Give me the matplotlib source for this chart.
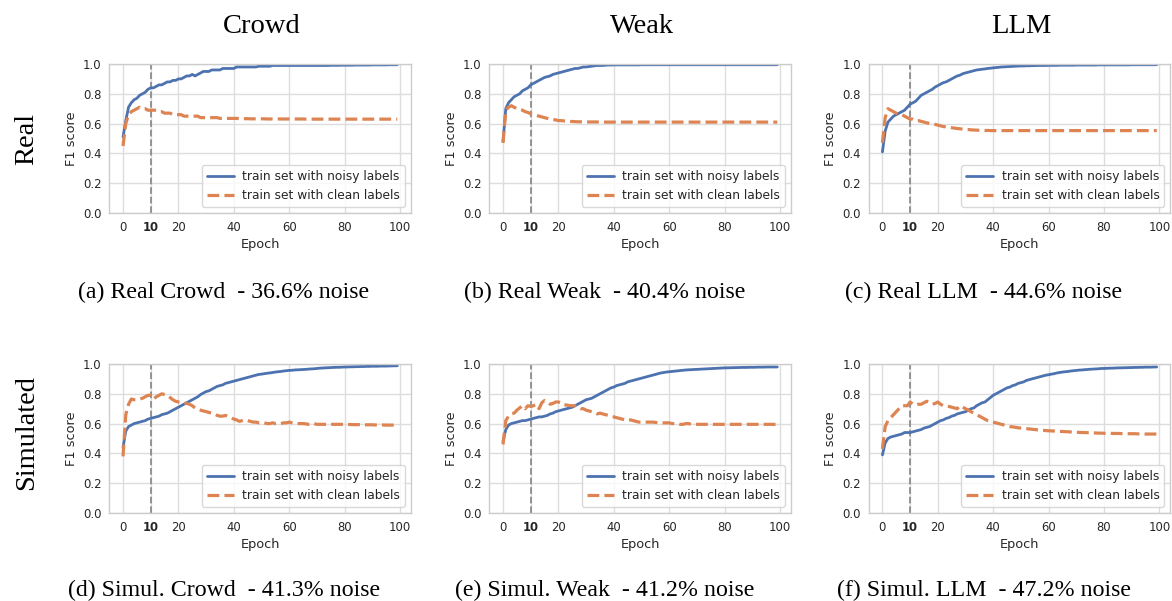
import matplotlib
matplotlib.use("Agg")
import matplotlib.pyplot as plt
import seaborn as sns

sns.set_style("whitegrid")
plt.rcParams["font.family"] = ["DejaVu Sans"]

epochs = list(range(100))

col_titles = ["Crowd", "Weak", "LLM"]
row_titles = ["Real", "Simulated"]
captions = [
    "(a) Real Crowd  - 36.6% noise",
    "(b) Real Weak  - 40.4% noise",
    "(c) Real LLM  - 44.6% noise",
    "(d) Simul. Crowd  - 41.3% noise",
    "(e) Simul. Weak  - 41.2% noise",
    "(f) Simul. LLM  - 47.2% noise",
]
xtick_vals = [0, 10, 20, 40, 60, 80, 100]
xtick_labels = ["0", "10", "20", "40", "60", "80", "100"]
ytick_vals = [0.0, 0.2, 0.4, 0.6, 0.8, 1.0]
noisy_label = "train set with noisy labels"
clean_label = "train set with clean labels"

# (a) Real Crowd
a_noisy = [0.51, 0.62, 0.71, 0.74, 0.76, 0.77, 0.79, 0.80, 0.81, 0.83,
           0.84, 0.84, 0.85, 0.86, 0.86, 0.87, 0.88, 0.88, 0.89, 0.89,
           0.90, 0.90, 0.91, 0.92, 0.92, 0.93, 0.92, 0.93, 0.94, 0.95,
           0.95, 0.95, 0.96, 0.96, 0.96, 0.96, 0.97, 0.97, 0.97, 0.97,
           0.97, 0.98, 0.98, 0.98, 0.98, 0.98, 0.98, 0.98, 0.98, 0.985,
           0.985, 0.985, 0.985, 0.985, 0.99, 0.99, 0.99, 0.99, 0.99, 0.99,
           0.99, 0.99, 0.99, 0.99, 0.99, 0.99, 0.99, 0.99, 0.99, 0.99,
           0.99, 0.99, 0.99, 0.99, 0.99, 0.991, 0.991, 0.991, 0.991, 0.992,
           0.992, 0.992, 0.992, 0.992, 0.993, 0.993, 0.993, 0.993, 0.993, 0.993,
           0.994, 0.994, 0.994, 0.994, 0.994, 0.994, 0.995, 0.995, 0.995, 0.995]
a_clean = [0.45, 0.60, 0.66, 0.68, 0.69, 0.70, 0.71, 0.70, 0.70, 0.69,
           0.69, 0.69, 0.69, 0.68, 0.68, 0.67, 0.67, 0.67, 0.66, 0.66,
           0.66, 0.66, 0.65, 0.65, 0.65, 0.65, 0.65, 0.65, 0.64, 0.64,
           0.64, 0.64, 0.64, 0.64, 0.64, 0.635, 0.635, 0.635, 0.635, 0.635,
           0.635, 0.635, 0.633, 0.633, 0.633, 0.633, 0.632, 0.632, 0.632, 0.632,
           0.632, 0.632, 0.631, 0.631, 0.631, 0.631, 0.631, 0.631, 0.631, 0.631,
           0.631, 0.631, 0.631, 0.631, 0.631, 0.631, 0.630, 0.630, 0.630, 0.630,
           0.630, 0.630, 0.630, 0.630, 0.630, 0.630, 0.630, 0.630, 0.630, 0.630,
           0.630, 0.630, 0.630, 0.630, 0.630, 0.630, 0.630, 0.630, 0.630, 0.630,
           0.630, 0.630, 0.630, 0.630, 0.630, 0.630, 0.630, 0.630, 0.630, 0.630]

# (b) Real Weak
b_noisy = [0.48, 0.70, 0.74, 0.76, 0.78, 0.79, 0.80, 0.82, 0.83, 0.84,
           0.86, 0.87, 0.88, 0.89, 0.90, 0.91, 0.915, 0.92, 0.93, 0.935,
           0.94, 0.945, 0.95, 0.955, 0.96, 0.965, 0.97, 0.97, 0.975, 0.98,
           0.98, 0.983, 0.985, 0.988, 0.99, 0.99, 0.99, 0.992, 0.993, 0.993,
           0.994, 0.994, 0.994, 0.994, 0.994, 0.994, 0.994, 0.994, 0.994, 0.994,
           0.995, 0.995, 0.995, 0.995, 0.995, 0.995, 0.995, 0.995, 0.995, 0.995,
           0.995, 0.995, 0.995, 0.995, 0.995, 0.995, 0.995, 0.995, 0.995, 0.995,
           0.995, 0.995, 0.995, 0.995, 0.995, 0.995, 0.995, 0.995, 0.995, 0.995,
           0.995, 0.995, 0.995, 0.995, 0.995, 0.995, 0.995, 0.995, 0.995, 0.995,
           0.995, 0.995, 0.995, 0.995, 0.995, 0.995, 0.995, 0.995, 0.995, 0.995]
b_clean = [0.47, 0.69, 0.71, 0.72, 0.71, 0.70, 0.695, 0.69, 0.68, 0.675,
           0.665, 0.66, 0.655, 0.65, 0.645, 0.64, 0.635, 0.63, 0.627, 0.625,
           0.62, 0.62, 0.618, 0.616, 0.615, 0.614, 0.613, 0.612, 0.612, 0.611,
           0.611, 0.611, 0.611, 0.611, 0.611, 0.610, 0.610, 0.610, 0.610, 0.610,
           0.610, 0.610, 0.610, 0.610, 0.610, 0.610, 0.610, 0.610, 0.610, 0.610,
           0.610, 0.610, 0.610, 0.610, 0.610, 0.610, 0.610, 0.610, 0.610, 0.610,
           0.610, 0.610, 0.610, 0.610, 0.610, 0.610, 0.610, 0.610, 0.610, 0.610,
           0.610, 0.610, 0.610, 0.610, 0.610, 0.610, 0.610, 0.610, 0.610, 0.610,
           0.610, 0.610, 0.610, 0.610, 0.610, 0.610, 0.610, 0.610, 0.610, 0.610,
           0.610, 0.610, 0.610, 0.610, 0.610, 0.610, 0.610, 0.610, 0.610, 0.610]

# (c) Real LLM
c_noisy = [0.41, 0.55, 0.61, 0.63, 0.65, 0.66, 0.67, 0.68, 0.69, 0.71,
           0.73, 0.74, 0.75, 0.77, 0.79, 0.80, 0.81, 0.82, 0.83, 0.845,
           0.855, 0.865, 0.875, 0.88, 0.89, 0.90, 0.91, 0.92, 0.925, 0.935,
           0.94, 0.945, 0.95, 0.955, 0.96, 0.962, 0.965, 0.967, 0.97, 0.972,
           0.974, 0.976, 0.978, 0.98, 0.981, 0.982, 0.983, 0.984, 0.985, 0.986,
           0.987, 0.987, 0.988, 0.988, 0.989, 0.989, 0.990, 0.990, 0.990, 0.990,
           0.991, 0.991, 0.991, 0.991, 0.992, 0.992, 0.992, 0.992, 0.992, 0.992,
           0.993, 0.993, 0.993, 0.993, 0.993, 0.993, 0.993, 0.993, 0.994, 0.994,
           0.994, 0.994, 0.994, 0.994, 0.994, 0.994, 0.994, 0.994, 0.994, 0.994,
           0.995, 0.995, 0.995, 0.995, 0.995, 0.995, 0.995, 0.995, 0.995, 0.995]
c_clean = [0.47, 0.64, 0.70, 0.69, 0.68, 0.67, 0.66, 0.66, 0.65, 0.64,
           0.63, 0.63, 0.62, 0.62, 0.615, 0.61, 0.605, 0.60, 0.60, 0.595,
           0.59, 0.585, 0.58, 0.578, 0.575, 0.572, 0.57, 0.567, 0.565, 0.563,
           0.56, 0.56, 0.558, 0.557, 0.556, 0.555, 0.555, 0.554, 0.554, 0.553,
           0.553, 0.553, 0.553, 0.553, 0.553, 0.553, 0.553, 0.553, 0.553, 0.553,
           0.553, 0.553, 0.553, 0.553, 0.553, 0.553, 0.553, 0.553, 0.553, 0.553,
           0.553, 0.553, 0.553, 0.553, 0.553, 0.553, 0.553, 0.553, 0.553, 0.553,
           0.553, 0.553, 0.553, 0.553, 0.553, 0.553, 0.553, 0.553, 0.553, 0.553,
           0.553, 0.553, 0.553, 0.553, 0.553, 0.553, 0.553, 0.553, 0.553, 0.553,
           0.553, 0.553, 0.553, 0.553, 0.553, 0.553, 0.553, 0.553, 0.553, 0.553]

# (d) Simulated Crowd
d_noisy = [0.44, 0.55, 0.58, 0.59, 0.60, 0.605, 0.61, 0.615, 0.62, 0.63,
           0.635, 0.64, 0.645, 0.65, 0.66, 0.665, 0.67, 0.68, 0.69, 0.70,
           0.71, 0.72, 0.73, 0.74, 0.75, 0.76, 0.77, 0.78, 0.795, 0.805,
           0.815, 0.82, 0.83, 0.84, 0.85, 0.855, 0.86, 0.87, 0.875, 0.88,
           0.885, 0.89, 0.895, 0.90, 0.905, 0.91, 0.915, 0.92, 0.925, 0.93,
           0.932, 0.935, 0.938, 0.94, 0.943, 0.946, 0.948, 0.95, 0.953, 0.955,
           0.957, 0.958, 0.96, 0.961, 0.962, 0.963, 0.964, 0.966, 0.967, 0.968,
           0.97, 0.972, 0.973, 0.974, 0.975, 0.976, 0.977, 0.978, 0.978, 0.979,
           0.980, 0.980, 0.981, 0.981, 0.982, 0.982, 0.983, 0.983, 0.984, 0.984,
           0.985, 0.985, 0.985, 0.986, 0.986, 0.986, 0.987, 0.987, 0.988, 0.988]
d_clean = [0.38, 0.66, 0.73, 0.765, 0.76, 0.76, 0.765, 0.77, 0.78, 0.79,
           0.79, 0.765, 0.78, 0.79, 0.80, 0.795, 0.79, 0.775, 0.76, 0.75,
           0.745, 0.74, 0.74, 0.735, 0.73, 0.72, 0.705, 0.695, 0.69, 0.685,
           0.68, 0.675, 0.67, 0.665, 0.655, 0.65, 0.65, 0.655, 0.645, 0.64,
           0.63, 0.625, 0.615, 0.62, 0.625, 0.62, 0.615, 0.61, 0.61, 0.605,
           0.605, 0.605, 0.60, 0.60, 0.605, 0.60, 0.60, 0.60, 0.605, 0.605,
           0.61, 0.605, 0.60, 0.60, 0.60, 0.60, 0.598, 0.595, 0.595, 0.60,
           0.595, 0.595, 0.595, 0.595, 0.595, 0.595, 0.595, 0.595, 0.595, 0.595,
           0.594, 0.594, 0.594, 0.593, 0.593, 0.593, 0.593, 0.592, 0.592, 0.592,
           0.592, 0.591, 0.591, 0.591, 0.591, 0.590, 0.590, 0.590, 0.590, 0.590]

# (e) Simulated Weak
e_noisy = [0.48, 0.56, 0.59, 0.60, 0.605, 0.61, 0.615, 0.62, 0.62, 0.625,
           0.63, 0.635, 0.64, 0.645, 0.645, 0.65, 0.655, 0.665, 0.67, 0.68,
           0.685, 0.69, 0.695, 0.70, 0.705, 0.71, 0.72, 0.73, 0.74, 0.75,
           0.76, 0.765, 0.77, 0.78, 0.79, 0.80, 0.81, 0.82, 0.83, 0.84,
           0.845, 0.855, 0.86, 0.865, 0.87, 0.88, 0.885, 0.89, 0.895, 0.90,
           0.905, 0.91, 0.915, 0.92, 0.925, 0.93, 0.935, 0.94, 0.943, 0.946,
           0.948, 0.95, 0.952, 0.954, 0.956, 0.958, 0.96, 0.961, 0.962, 0.963,
           0.964, 0.965, 0.966, 0.967, 0.968, 0.969, 0.97, 0.971, 0.972, 0.973,
           0.974, 0.974, 0.975, 0.975, 0.976, 0.976, 0.977, 0.977, 0.977, 0.978,
           0.978, 0.978, 0.979, 0.979, 0.979, 0.980, 0.980, 0.980, 0.980, 0.980]
e_clean = [0.46, 0.62, 0.65, 0.665, 0.67, 0.69, 0.705, 0.72, 0.70, 0.72,
           0.715, 0.72, 0.73, 0.70, 0.74, 0.755, 0.745, 0.73, 0.735, 0.745,
           0.745, 0.74, 0.725, 0.725, 0.72, 0.72, 0.72, 0.71, 0.70, 0.70,
           0.69, 0.685, 0.68, 0.675, 0.665, 0.67, 0.665, 0.66, 0.655, 0.65,
           0.645, 0.64, 0.635, 0.63, 0.625, 0.62, 0.625, 0.62, 0.615, 0.61,
           0.61, 0.61, 0.61, 0.61, 0.61, 0.608, 0.606, 0.605, 0.605, 0.605,
           0.605, 0.60, 0.60, 0.60, 0.595, 0.595, 0.60, 0.60, 0.595, 0.595,
           0.595, 0.595, 0.595, 0.595, 0.595, 0.595, 0.595, 0.595, 0.595, 0.595,
           0.595, 0.595, 0.595, 0.595, 0.595, 0.595, 0.595, 0.595, 0.595, 0.595,
           0.595, 0.595, 0.595, 0.595, 0.595, 0.595, 0.595, 0.595, 0.595, 0.595]

# (f) Simulated LLM
f_noisy = [0.39, 0.47, 0.50, 0.51, 0.515, 0.52, 0.525, 0.53, 0.54, 0.54,
           0.54, 0.545, 0.55, 0.555, 0.56, 0.57, 0.575, 0.58, 0.59, 0.60,
           0.61, 0.62, 0.625, 0.635, 0.64, 0.65, 0.655, 0.665, 0.67, 0.675,
           0.68, 0.69, 0.70, 0.705, 0.72, 0.73, 0.74, 0.745, 0.76, 0.775,
           0.79, 0.80, 0.81, 0.82, 0.83, 0.84, 0.845, 0.855, 0.86, 0.87,
           0.875, 0.88, 0.89, 0.895, 0.90, 0.905, 0.91, 0.915, 0.92, 0.925,
           0.928, 0.932, 0.935, 0.94, 0.943, 0.946, 0.948, 0.95, 0.953, 0.955,
           0.957, 0.959, 0.96, 0.962, 0.963, 0.965, 0.966, 0.967, 0.968, 0.97,
           0.970, 0.971, 0.972, 0.972, 0.973, 0.974, 0.974, 0.975, 0.975, 0.976,
           0.976, 0.977, 0.977, 0.978, 0.978, 0.979, 0.979, 0.979, 0.980, 0.980]
f_clean = [0.43, 0.58, 0.62, 0.64, 0.66, 0.68, 0.70, 0.72, 0.72, 0.72,
           0.745, 0.73, 0.725, 0.73, 0.73, 0.74, 0.75, 0.74, 0.73, 0.735,
           0.745, 0.73, 0.72, 0.72, 0.715, 0.71, 0.705, 0.70, 0.72, 0.71,
           0.70, 0.69, 0.68, 0.67, 0.66, 0.65, 0.64, 0.63, 0.62, 0.615,
           0.61, 0.605, 0.60, 0.595, 0.59, 0.585, 0.58, 0.578, 0.575, 0.572,
           0.57, 0.568, 0.566, 0.564, 0.562, 0.56, 0.558, 0.556, 0.555, 0.553,
           0.552, 0.551, 0.55, 0.549, 0.548, 0.547, 0.546, 0.545, 0.544, 0.543,
           0.542, 0.541, 0.54, 0.54, 0.539, 0.538, 0.537, 0.537, 0.536, 0.536,
           0.535, 0.535, 0.535, 0.534, 0.534, 0.534, 0.533, 0.533, 0.533, 0.532,
           0.532, 0.532, 0.531, 0.531, 0.531, 0.530, 0.530, 0.530, 0.530, 0.530]

noisy_series = [a_noisy, b_noisy, c_noisy, d_noisy, e_noisy, f_noisy]
clean_series = [a_clean, b_clean, c_clean, d_clean, e_clean, f_clean]

FW, FH = 1172, 601
fig = plt.figure(figsize=(FW / 100, FH / 100), dpi=100)

col_left = [109.3, 489.3, 868.7]
row_top = [64.0, 364.0]
AW, AH = 301.7, 149.0

blue = "#4C72B0"
orange = "#DD8452"
txt = "#262626"

for r in range(2):
    for c in range(3):
        k = r * 3 + c
        ax = fig.add_axes([col_left[c] / FW, 1 - (row_top[r] + AH) / FH, AW / FW, AH / FH])
        ax.plot(epochs, noisy_series[k], color=blue, lw=2.0, label=noisy_label)
        ax.plot(epochs, clean_series[k], color=orange, lw=2.3, ls="--", label=clean_label)
        ax.axvline(10, color="#8c8c8c", ls="--", lw=1.3, zorder=1.5)
        ax.set_ylim(0, 1.0)
        ax.set_xlim(-4.95, 103.95)
        ax.set_yticks(ytick_vals)
        ax.set_yticklabels([f"{v:.1f}" for v in ytick_vals], fontsize=8.4, color=txt)
        ax.set_xticks(xtick_vals)
        ax.set_xticklabels(xtick_labels, fontsize=8.4, color=txt)
        ax.get_xticklabels()[1].set_fontweight("bold")
        ax.tick_params(axis="both", length=0, pad=5.6)
        ax.set_xlabel("Epoch", fontsize=9.3, color=txt, labelpad=3)
        ax.set_ylabel("F1 score", fontsize=9.3, color=txt, labelpad=3.6)
        for s in ax.spines.values():
            s.set_color("#cccccc")
            s.set_linewidth(1.0)
        ax.grid(True, color="#dddddd", lw=1.0)
        leg = ax.legend(loc="lower right", fontsize=8.8, frameon=True,
                        handlelength=2.2, handletextpad=0.7, borderaxespad=0.5)
        leg.get_frame().set_edgecolor("#d0d0d0")
        for t in leg.get_texts():
            t.set_color(txt)

serif = ["Liberation Serif", "DejaVu Serif"]
title_x = [262, 642, 1021]
for c in range(3):
    fig.text(title_x[c] / FW, 1 - 33.3 / FH, col_titles[c], ha="center", va="baseline",
             family=serif, fontsize=20.5, color="black")

row_y = [139, 432]
for r in range(2):
    fig.text(27 / FW, 1 - row_y[r] / FH, row_titles[r], ha="center", va="center",
             rotation=90, family=serif, fontsize=20.5, color="black")

cap_x = [224, 605, 984, 224, 605, 984]
cap_base = [298, 298, 298, 596, 596, 596]
for k in range(6):
    fig.text(cap_x[k] / FW, 1 - cap_base[k] / FH, captions[k], ha="center", va="baseline",
             family=serif, fontsize=17.2, color="black")

fig.savefig("out.png", dpi=100)
